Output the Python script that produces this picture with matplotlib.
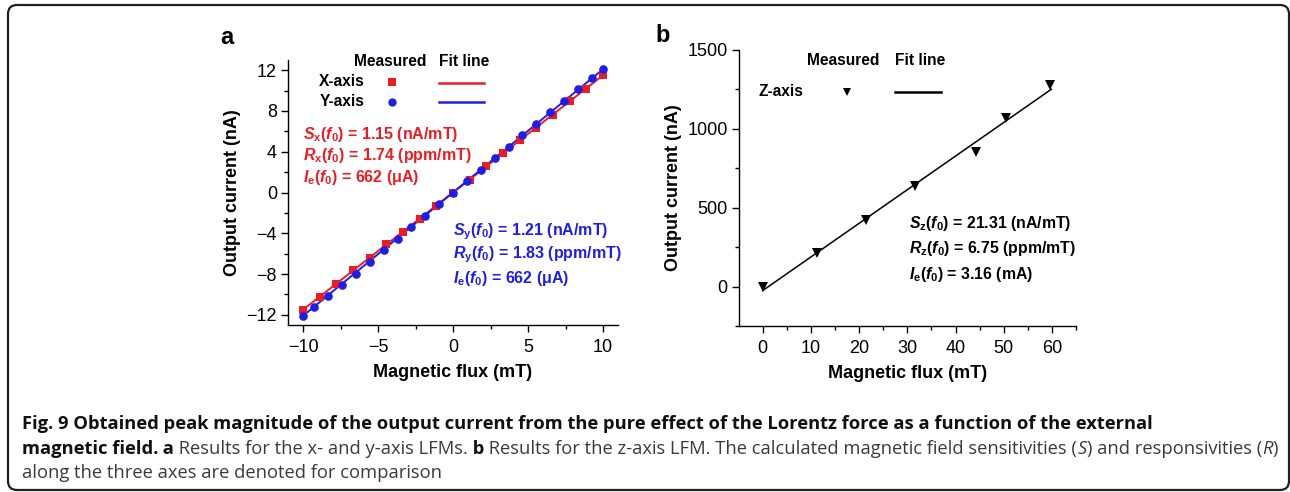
import numpy as np
import matplotlib
matplotlib.use("Agg")
import matplotlib.pyplot as plt
from matplotlib.patches import FancyBboxPatch
from matplotlib.transforms import IdentityTransform

# panel a: x- and y-axis LFM, output current vs. applied flux
flux_xaxis = [-10, -8.89, -7.78, -6.67, -5.56, -4.44, -3.33, -2.22, -1.11, 0,
              1.11, 2.22, 3.33, 4.44, 5.56, 6.67, 7.78, 8.89, 10]
current_xaxis = [-11.48, -10.24, -8.93, -7.62, -6.38, -5.10, -3.86, -2.58, -1.31, 0,
                 1.21, 2.58, 3.83, 5.13, 6.34, 7.62, 8.93, 10.2, 11.51]
flux_yaxis = [-10, -9.26, -8.33, -7.41, -6.48, -5.56, -4.63, -3.70, -2.78, -1.85, -0.93, 0,
              0.93, 1.85, 2.78, 3.70, 4.63, 5.56, 6.48, 7.41, 8.33, 9.26, 10]
current_yaxis = [-12.07, -11.28, -10.17, -9.03, -7.95, -6.77, -5.66, -4.55, -3.43, -2.29, -1.14, 0,
                 1.14, 2.22, 3.40, 4.48, 5.62, 6.74, 7.88, 8.99, 10.14, 11.25, 12.07]

# panel b: z-axis LFM
flux_zaxis = [0, 11.3, 21.4, 31.6, 44.2, 50.5, 59.6]
current_zaxis = [-5, 213, 425, 638, 851, 1068, 1277]

# fitted sensitivities (nA/mT) and intercepts (nA)
sens_x, icpt_x = 1.15, 0.0
sens_y, icpt_y = 1.21, 0.0
sens_z, icpt_z = 21.31, -25.0
fit_range_xy = [-10, 10]
fit_range_z = [0, 59.9]

RED = "#ec1c24"
BLUE = "#1e1ee6"
SANS = "Liberation Sans"

plt.rcParams["font.family"] = SANS
plt.rcParams["mathtext.fontset"] = "custom"
plt.rcParams["mathtext.rm"] = SANS + ":bold"
plt.rcParams["mathtext.bf"] = SANS + ":bold"
plt.rcParams["mathtext.it"] = SANS + ":italic:bold"
plt.rcParams["axes.linewidth"] = 1.0


def style_axes(ax):
    ax.spines["top"].set_visible(False)
    ax.spines["right"].set_visible(False)
    ax.tick_params(which="major", direction="out", length=5, width=1, labelsize=13, pad=3)
    ax.tick_params(axis="x", which="major", pad=5)
    ax.tick_params(which="minor", direction="out", length=3, width=1)
    ax.set_xlabel("Magnetic flux (mT)", fontsize=13, fontweight="bold", labelpad=6)
    ax.set_ylabel("Output current (nA)", fontsize=13, fontweight="bold", labelpad=4)


def fit_line(ax, xr, slope, icpt, color, lw):
    xr = np.asarray(xr, dtype=float)
    ax.plot(xr, slope * xr + icpt, color=color, lw=lw, zorder=2)


fig = plt.figure(figsize=(12.9, 4.92), dpi=100)

# ---- panel a ----
ax1 = fig.add_axes([288 / 1290, 1 - 325 / 492, 330 / 1290, 265 / 492])
fit_line(ax1, fit_range_xy, sens_x, icpt_x, RED, 1.4)
fit_line(ax1, fit_range_xy, sens_y, icpt_y, BLUE, 1.4)
ax1.plot(flux_xaxis, current_xaxis, "s", color=RED, ms=5.6, mew=0, zorder=3)
ax1.plot(flux_yaxis, current_yaxis, "o", color=BLUE, ms=6.2, mew=0, zorder=3)
ax1.set_xlim(-11, 11)
ax1.set_ylim(-13, 13)
ax1.set_xticks([-10, -5, 0, 5, 10])
ax1.set_xticks([-7.5, -2.5, 2.5, 7.5], minor=True)
ax1.set_yticks([-12, -8, -4, 0, 4, 8, 12])
ax1.set_yticks([-10, -6, -2, 2, 6, 10], minor=True)
style_axes(ax1)

# legend table
tA = ax1.transAxes
ax1.text(0.309, 0.995, "Measured", transform=tA, ha="center", va="center", fontsize=11.2, fontweight="bold")
ax1.text(0.533, 0.995, "Fit line", transform=tA, ha="center", va="center", fontsize=11.2, fontweight="bold")
ax1.text(0.164, 0.920, "X-axis", transform=tA, ha="center", va="center", fontsize=11.2, fontweight="bold")
ax1.text(0.164, 0.842, "Y-axis", transform=tA, ha="center", va="center", fontsize=11.2, fontweight="bold")
ax1.plot([0.315], [0.917], "s", color=RED, ms=5.5, mew=0, transform=tA, clip_on=False)
ax1.plot([0.315], [0.840], "o", color=BLUE, ms=6, mew=0, transform=tA, clip_on=False)
ax1.plot([0.458, 0.594], [0.915, 0.915], color=RED, lw=1.8, transform=tA, clip_on=False)
ax1.plot([0.458, 0.594], [0.840, 0.840], color=BLUE, lw=1.8, transform=tA, clip_on=False)

red_notes = [r"$S_\mathrm{x}(f_0)$ = 1.15 (nA/mT)",
             r"$R_\mathrm{x}(f_0)$ = 1.74 (ppm/mT)",
             r"$I_\mathrm{e}(f_0)$ = 662 (μA)"]
for txt, yy in zip(red_notes, [0.717, 0.638, 0.558]):
    ax1.text(0.045, yy, txt, transform=tA, ha="left", va="center", fontsize=11.5,
             fontweight="bold", color=RED)
blue_notes = [r"$S_\mathrm{y}(f_0)$ = 1.21 (nA/mT)",
              r"$R_\mathrm{y}(f_0)$ = 1.83 (ppm/mT)",
              r"$I_\mathrm{e}(f_0)$ = 662 (μA)"]
for txt, yy in zip(blue_notes, [0.351, 0.264, 0.174]):
    ax1.text(0.50, yy, txt, transform=tA, ha="left", va="center", fontsize=11.5,
             fontweight="bold", color=BLUE)

# ---- panel b ----
ax2 = fig.add_axes([738.7 / 1290, 1 - 326 / 492, 337.3 / 1290, 276 / 492])
fit_line(ax2, fit_range_z, sens_z, icpt_z, "black", 1.1)
ax2.plot(flux_zaxis, current_zaxis, "v", color="black", ms=7, mew=0, zorder=3)
ax2.set_xlim(-5, 65)
ax2.set_ylim(-250, 1500)
ax2.set_xticks([0, 10, 20, 30, 40, 50, 60])
ax2.set_xticks([5, 15, 25, 35, 45, 55, 65], minor=True)
ax2.set_yticks([0, 500, 1000, 1500])
ax2.set_yticks([-250, 250, 750, 1250], minor=True)
style_axes(ax2)

tB = ax2.transAxes
ax2.text(0.309, 0.961, "Measured", transform=tB, ha="center", va="center", fontsize=11.2, fontweight="bold")
ax2.text(0.537, 0.961, "Fit line", transform=tB, ha="center", va="center", fontsize=11.2, fontweight="bold")
ax2.text(0.125, 0.848, "Z-axis", transform=tB, ha="center", va="center", fontsize=11.2, fontweight="bold")
ax2.plot([0.321], [0.848], "v", color="black", ms=6, mew=0, transform=tB, clip_on=False)
ax2.plot([0.463, 0.600], [0.848, 0.848], color="black", lw=1.8, transform=tB, clip_on=False)

z_notes = [r"$S_\mathrm{z}(f_0)$ = 21.31 (nA/mT)",
           r"$R_\mathrm{z}(f_0)$ = 6.75 (ppm/mT)",
           r"$I_\mathrm{e}(f_0)$ = 3.16 (mA)"]
for txt, yy in zip(z_notes, [0.373, 0.279, 0.188]):
    ax2.text(0.505, yy, txt, transform=tB, ha="left", va="center", fontsize=11.4,
             fontweight="bold", color="black")

# panel letters
fig.text(227 / 1290, 1 - 37 / 492, "a", fontsize=17, fontweight="bold", ha="center", va="center")
fig.text(663 / 1290, 1 - 35 / 492, "b", fontsize=17, fontweight="bold", ha="center", va="center")

# ---- caption, written as runs of bold / regular / italic text ----
CAP = "Open Sans"
CAP_SIZE = 13.2
renderer = fig.canvas.get_renderer()


def caption_line(x_px, base_px, runs):
    for txt, weight, style in runs:
        col = "#111111" if weight == "bold" else "#3a3a3a"
        t = fig.text(x_px / 1290, 1 - base_px / 492, txt, family=CAP, fontsize=CAP_SIZE,
                     fontweight=weight, fontstyle=style, color=col,
                     ha="left", va="baseline")
        x_px = t.get_window_extent(renderer).x1


caption_line(22, 429, [("Fig. 9 Obtained peak magnitude of the output current from the pure effect "
                        "of the Lorentz force as a function of the external", "bold", "normal")])
caption_line(22, 454, [("magnetic field.", "bold", "normal"),
                       (" a", "bold", "normal"),
                       (" Results for the x- and y-axis LFMs.", "normal", "normal"),
                       (" b", "bold", "normal"),
                       (" Results for the z-axis LFM. The calculated magnetic field sensitivities (",
                        "normal", "normal"),
                       ("S", "normal", "italic"),
                       (") and responsivities (", "normal", "normal"),
                       ("R", "normal", "italic"),
                       (")", "normal", "normal")])
caption_line(22, 478, [("along the three axes are denoted for comparison", "normal", "normal")])

# outer frame
frame = FancyBboxPatch((8, 2), 1281, 485, boxstyle="round,pad=0,rounding_size=9",
                       transform=IdentityTransform(), fill=False, lw=1.6, ec="#231f20")
fig.add_artist(frame)

fig.savefig("out.png", dpi=100)
